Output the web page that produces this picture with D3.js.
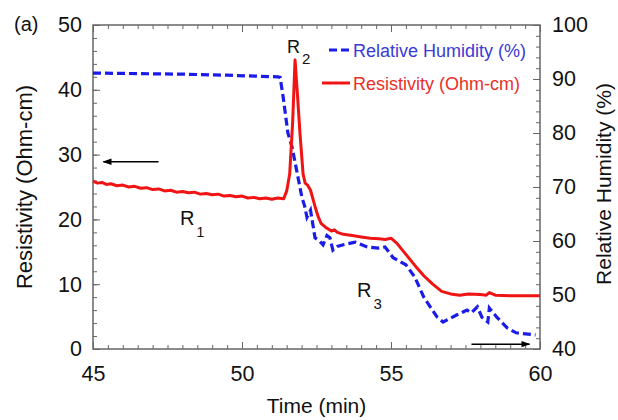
<!DOCTYPE html>
<html>
<head>
<meta charset="utf-8">
<script src="https://cdn.jsdelivr.net/npm/d3@7"></script>
<style>
  body { margin: 0; background: #fff; }
  text { font-family: Arial, "Liberation Sans", Helvetica, sans-serif; }
</style>
</head>
<body>
<svg id="chart"></svg>
<script>
"use strict";

// ==========================
// data
// ==========================
var timeRes = [45, 45.15, 45.3, 45.45, 45.6, 45.8, 46, 46.2, 46.4, 46.6, 46.8, 47.0, 47.2, 47.4, 47.6, 47.8, 48, 48.2,
  48.4, 48.6, 48.8, 49.0, 49.2, 49.4, 49.6, 49.8, 50, 50.2, 50.4, 50.6, 50.8, 51.0, 51.2, 51.4,
  51.5, 51.6, 51.7, 51.78, 51.85, 51.95, 52.05, 52.12, 52.2, 52.3, 52.45, 52.55, 52.65, 52.8, 53.0, 53.1, 53.2, 53.4,
  53.7, 54.0, 54.3, 54.6, 54.8, 55.0, 55.2, 55.5, 55.8, 56.1, 56.4, 56.7, 57.0, 57.3, 57.6, 58.0, 58.2, 58.3, 58.5, 59.0, 60];
var resistivity = [25.9, 25.6, 25.7, 25.4, 25.5, 25.2, 25.3, 25.0, 25.1, 24.8, 24.9, 24.6, 24.7, 24.4, 24.5, 24.2, 24.3, 24.1,
  24.2, 23.9, 24.0, 23.8, 23.9, 23.6, 23.7, 23.5, 23.6, 23.3, 23.4, 23.2, 23.3, 23.1, 23.3, 23.2,
  24.4, 27, 35, 44.6, 40, 33, 27, 25.6, 25.3, 24.5, 22, 20.5, 19.4, 18.8, 18.2, 18.4, 18.0, 17.7,
  17.5, 17.3, 17.1, 17.0, 16.9, 17.1, 16.3, 14.6, 12.9, 11.3, 10.0, 8.9, 8.5, 8.3, 8.5, 8.4, 8.3, 8.7, 8.3, 8.2, 8.2];

var timeRH = [45, 46.5, 48, 49.5, 51.2, 51.28, 51.38, 51.54, 51.68, 51.85, 52.01, 52.1, 52.18, 52.3, 52.45, 52.6, 52.72,
  52.85, 52.95, 53.05, 53.2, 53.4, 53.8, 54.2, 54.57, 54.8, 55.07, 55.5, 55.8, 56.1, 56.55, 56.75, 57.2, 57.55,
  57.7, 57.9, 58.05, 58.25, 58.3, 58.55, 58.9, 59.2, 59.85];
var humidity = [91.1, 91.0, 90.9, 90.7, 90.4, 90.3, 86.7, 80, 77.4, 72.6, 68.1, 66.5, 64.4, 65.7, 60.6, 60.0, 59.3,
  61.0, 60.6, 58.3, 59.0, 59.3, 59.8, 58.9, 58.7, 58.9, 56.9, 55.6, 53.3, 49.6, 45.9, 45.0, 46.3, 47.2,
  46.7, 47.8, 45.9, 45.0, 47.6, 45.9, 43.9, 43.0, 42.6];

var timeTicks = [45, 50, 55, 60];
var resTicks = [0, 10, 20, 30, 40, 50];
var rhTicks = [40, 50, 60, 70, 80, 90, 100];

var legendLabels = ["Relative Humidity (%)", "Resistivity (Ohm-cm)"];

// ==========================
// layout
// ==========================
var width = 618, height = 420,
    margin = { top: 25, right: 78, bottom: 71, left: 93 },
    w = width - margin.left - margin.right,
    h = height - margin.top - margin.bottom;

var blue = "#1c1ce8", red = "#f01414", frame = "#666";

var svg = d3.select("#chart").attr("width", width).attr("height", height);
var g = svg.append("g").attr("transform", "translate(" + margin.left + "," + margin.top + ")");

var x = d3.scaleLinear().domain([45, 60]).range([0, w]),
    yRes = d3.scaleLinear().domain([0, 50]).range([h, 0]),
    yRH = d3.scaleLinear().domain([40, 100]).range([h, 0]);

// ==========================
// axes
// ==========================
function styleAxis(sel) {
  sel.select(".domain").remove();
  sel.selectAll(".tick line").attr("stroke", frame).attr("stroke-width", 1);
  sel.selectAll(".tick text").attr("fill", "#111").style("font-size", "21.5px").style("font-family", "Arial, 'Liberation Sans', sans-serif");
}

// minor ticks
g.append("g").attr("transform", "translate(0," + h + ")")
  .call(d3.axisBottom(x).tickValues(d3.range(45, 60.01, 0.5)).tickSize(-4).tickFormat(""))
  .call(styleAxis);
g.append("g")
  .call(d3.axisTop(x).tickValues(d3.range(45, 60.01, 0.5)).tickSize(-4).tickFormat(""))
  .call(styleAxis);
g.append("g")
  .call(d3.axisLeft(yRes).tickValues(d3.range(0, 50.01, 2)).tickSize(-4).tickFormat(""))
  .call(styleAxis);
g.append("g").attr("transform", "translate(" + w + ",0)")
  .call(d3.axisRight(yRH).tickValues(d3.range(40, 100.01, 2)).tickSize(-4).tickFormat(""))
  .call(styleAxis);

// major ticks + labels
g.append("g").attr("transform", "translate(0," + h + ")")
  .call(d3.axisBottom(x).tickValues(timeTicks).tickSize(-7).tickPadding(17).tickFormat(d3.format("d")))
  .call(styleAxis);
g.append("g")
  .call(d3.axisTop(x).tickValues(timeTicks).tickSize(-7).tickFormat(""))
  .call(styleAxis);
g.append("g")
  .call(d3.axisLeft(yRes).tickValues(resTicks).tickSize(-7).tickPadding(11).tickFormat(d3.format("d")))
  .call(styleAxis);
g.append("g").attr("transform", "translate(" + w + ",0)")
  .call(d3.axisRight(yRH).tickValues(rhTicks).tickSize(-7).tickPadding(12).tickFormat(d3.format("d")))
  .call(styleAxis);

g.append("rect").attr("width", w).attr("height", h)
  .attr("fill", "none").attr("stroke", frame).attr("stroke-width", 1.5);

// ==========================
// lines
// ==========================
var resLine = d3.line().x(function (d, i) { return x(timeRes[i]); }).y(function (d) { return yRes(d); });
var rhLine = d3.line().x(function (d, i) { return x(timeRH[i]); }).y(function (d) { return yRH(d); });

g.append("path").datum(humidity).attr("d", rhLine)
  .attr("fill", "none").attr("stroke", blue).attr("stroke-width", 3.2).attr("stroke-dasharray", "8,4");
g.append("path").datum(resistivity).attr("d", resLine)
  .attr("fill", "none").attr("stroke", red).attr("stroke-width", 3).attr("stroke-linejoin", "round");

// ==========================
// arrows
// ==========================
svg.append("defs").append("marker").attr("id", "head")
  .attr("viewBox", "0 0 10 10").attr("refX", 9).attr("refY", 5)
  .attr("markerWidth", 6).attr("markerHeight", 6).attr("orient", "auto")
  .append("path").attr("d", "M0,1.5L10,5L0,8.5z").attr("fill", "#000");

g.append("line").attr("x1", x(47.2)).attr("x2", x(45.35)).attr("y1", yRes(28.9)).attr("y2", yRes(28.9))
  .attr("stroke", "#000").attr("stroke-width", 1.5).attr("marker-end", "url(#head)");
g.append("line").attr("x1", x(57.7)).attr("x2", x(59.65)).attr("y1", yRH(40.9)).attr("y2", yRH(40.9))
  .attr("stroke", "#000").attr("stroke-width", 1.5).attr("marker-end", "url(#head)");

// ==========================
// region labels
// ==========================
function region(t, v, sub, size, subSize) {
  var txt = g.append("text").attr("x", x(t)).attr("y", yRes(v)).attr("fill", "#111").style("font-size", size + "px");
  txt.append("tspan").text("R");
  txt.append("tspan").attr("dx", 2).attr("dy", size * 0.6).style("font-size", subSize + "px").text(sub);
}
region(47.92, 19.1, "1", 20, 14);
region(51.51, 45.7, "2", 18, 15);
region(53.86, 8.0, "3", 20, 15);

// ==========================
// legend
// ==========================
var legend = g.append("g").attr("transform", "translate(" + (335 - margin.left) + ",0)");
legend.append("line").attr("x1", -6).attr("x2", 15).attr("y1", 50 - margin.top).attr("y2", 50 - margin.top)
  .attr("stroke", blue).attr("stroke-width", 3).attr("stroke-dasharray", "8,4");
legend.append("text").attr("x", 18).attr("y", 56.5 - margin.top).attr("fill", "#3a3ad6")
  .style("font-size", "18px").text(legendLabels[0]);
legend.append("line").attr("x1", -13).attr("x2", 15).attr("y1", 83 - margin.top).attr("y2", 83 - margin.top)
  .attr("stroke", red).attr("stroke-width", 3);
legend.append("text").attr("x", 18).attr("y", 90 - margin.top).attr("fill", "#e8302a")
  .style("font-size", "18px").text(legendLabels[1]);

// ==========================
// titles
// ==========================
svg.append("text").attr("x", 14).attr("y", 31).attr("fill", "#111").style("font-size", "20px").text("(a)");
svg.append("text").attr("transform", "translate(32," + (margin.top + h / 2) + ") rotate(-90)")
  .attr("text-anchor", "middle").attr("fill", "#111").style("font-size", "22px").text("Resistivity (Ohm-cm)");
svg.append("text").attr("transform", "translate(611,184) rotate(-90)")
  .attr("text-anchor", "middle").attr("fill", "#111").style("font-size", "21px").text("Relative Humidity (%)");
svg.append("text").attr("x", margin.left + w / 2).attr("y", 413)
  .attr("text-anchor", "middle").attr("fill", "#111").style("font-size", "21px").text("Time (min)");
</script>
</body>
</html>
